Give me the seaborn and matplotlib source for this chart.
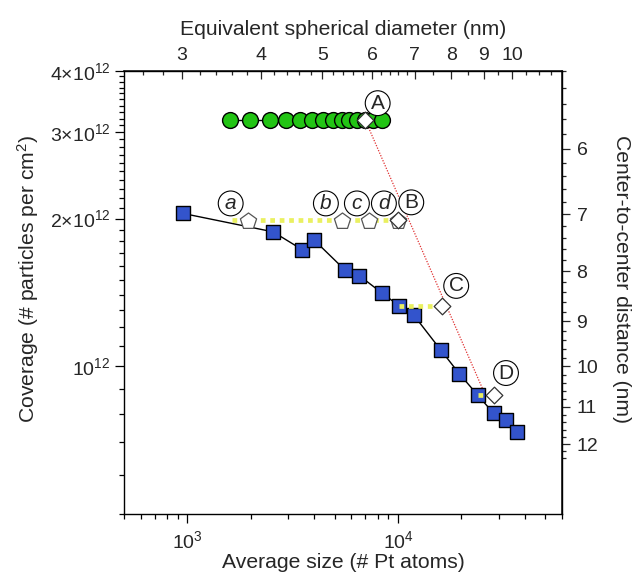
import numpy as np
import pandas as pd
import matplotlib
matplotlib.use('Agg')
from matplotlib import pyplot as plt
from matplotlib import ticker
import seaborn as sns

# particle size (# Pt atoms) vs coverage (# per cm^2)
blue_atoms = [950, 2550, 3500, 3990, 5610, 6550, 8400, 10080, 11900,
              15940, 19520, 23860, 28420, 32390, 36770]
blue_coverage = [2.05e12, 1.88e12, 1.73e12, 1.81e12, 1.57e12, 1.53e12, 1.41e12,
                 1.33e12, 1.27e12, 1.08e12, 0.966e12, 0.874e12, 0.802e12,
                 0.776e12, 0.735e12]

green_atoms = [1590, 1990, 2455, 2945, 3430, 3900, 4425, 4935, 5410, 5880,
               6375, 6980, 7640, 8370]
green_coverage = [3.18e12, 3.18e12, 3.18e12, 3.18e12, 3.18e12, 3.18e12, 3.18e12,
                  3.18e12, 3.18e12, 3.18e12, 3.18e12, 3.18e12, 3.18e12, 3.18e12]

pentagon_atoms = [1940, 5410, 7310, 9970]
pentagon_coverage = [1.98e12, 1.98e12, 1.98e12, 1.98e12]
pentagon_labels = ['a', 'b', 'c', 'd']

diamond_atoms = [6980, 10000, 16220, 28600]
diamond_coverage = [3.18e12, 1.99e12, 1.327e12, 0.873e12]
diamond_labels = ['A', 'B', 'C', 'D']

# yellow dotted guides ending on the diamonds B, C, D
yellow_start = [1630, 10080, 23860]

# red dotted guide from A
red_atoms = [6980, 26100]
red_coverage = [3.18e12, 0.869e12]

left_ticks = [1e12, 2e12, 3e12, 4e12]
left_ticklabels = ['10$^{12}$', '2×10$^{12}$', '3×10$^{12}$', '4×10$^{12}$']
top_ticks = [3, 4, 5, 6, 7, 8, 9, 10]
right_ticks = [6, 7, 8, 9, 10, 11, 12]

PT_VOLUME = 0.0150  # nm^3 per Pt atom


def atoms_to_diameter(n):
    n = np.clip(np.asarray(n, dtype=float), 1e-9, None)
    return (6 * n * PT_VOLUME / np.pi) ** (1 / 3)


def diameter_to_atoms(d):
    d = np.clip(np.asarray(d, dtype=float), 1e-9, None)
    return np.pi * d ** 3 / (6 * PT_VOLUME)


def coverage_to_distance(c):
    c = np.clip(np.asarray(c, dtype=float), 1e-9, None)
    return 1e7 / np.sqrt(c)


def distance_to_coverage(d):
    d = np.clip(np.asarray(d, dtype=float), 1e-9, None)
    return 1e14 / d ** 2


sns.set_theme(style='ticks')
plt.rcParams['font.family'] = ['Liberation Sans', 'DejaVu Sans']
plt.rcParams['mathtext.fontset'] = 'custom'
plt.rcParams['mathtext.rm'] = 'Liberation Sans'
plt.rcParams['mathtext.it'] = 'Liberation Sans:italic'
TICK_FS = 14
LABEL_FS = 15.2
MARK_FS = 15

fig = plt.figure(figsize=(6.33, 5.77), dpi=100)
ax = fig.add_axes([0.1959, 0.1092, 0.6919, 0.7678])
ax.set_xscale('log')
ax.set_yscale('log')

blue = pd.DataFrame({'atoms': blue_atoms, 'coverage': blue_coverage})
green = pd.DataFrame({'atoms': green_atoms, 'coverage': green_coverage})
pent = pd.DataFrame({'atoms': pentagon_atoms, 'coverage': pentagon_coverage})
diam = pd.DataFrame({'atoms': diamond_atoms, 'coverage': diamond_coverage})

# red guide
ax.plot(red_atoms, red_coverage, color='#e03030', lw=0.9, ls=(0, (1, 1.2)), zorder=2)

sns.lineplot(data=blue, x='atoms', y='coverage', color='black', lw=1.0, ax=ax,
             zorder=2, sort=False)
sns.scatterplot(data=blue, x='atoms', y='coverage', marker='s', s=100,
                color='#3354cc', edgecolor='black', linewidth=1.0, ax=ax, zorder=3)
sns.lineplot(data=green, x='atoms', y='coverage', color='black', lw=1.0, ax=ax,
             zorder=2, sort=False)
sns.scatterplot(data=green, x='atoms', y='coverage', marker='o', s=130,
                color='#22c414', edgecolor='black', linewidth=1.0, ax=ax, zorder=3)

for x0, x1, y in zip(yellow_start, diamond_atoms[1:], diamond_coverage[1:]):
    ax.plot([x0, x1], [y, y], color='#eaf060', lw=3.4, ls=(0, (1, 1)),
            solid_capstyle='butt', dash_capstyle='butt', zorder=4)

sns.scatterplot(data=pent, x='atoms', y='coverage', marker='p', s=150,
                color='white', edgecolor='#555555', linewidth=0.9, ax=ax, zorder=5)
sns.scatterplot(data=diam, x='atoms', y='coverage', marker='D', s=72,
                color='white', edgecolor='#333333', linewidth=0.9, ax=ax, zorder=6)

circle = dict(boxstyle='circle,pad=0.14', fc='white', ec='black', lw=0.8)
pent_offsets = [(-12.5, 12.5), (-11.5, 12.5), (-9, 12.5), (-10, 12.5)]
for x, y, lab, off in zip(pentagon_atoms, pentagon_coverage, pentagon_labels, pent_offsets):
    ax.annotate(lab, xy=(x, y), xytext=off, textcoords='offset points',
                ha='center', va='center', fontsize=MARK_FS, style='italic',
                bbox=circle, zorder=7)
diam_offsets = [(9, 12), (9.5, 12.5), (10, 14.5), (8.5, 16)]
for x, y, lab, off in zip(diamond_atoms, diamond_coverage, diamond_labels, diam_offsets):
    ax.annotate(lab, xy=(x, y), xytext=off, textcoords='offset points',
                ha='center', va='center', fontsize=MARK_FS,
                bbox=circle, zorder=7)

ax.set_xlim(500, 60000)
ax.set_ylim(5e11, 4e12)

ax.yaxis.set_major_locator(ticker.FixedLocator(left_ticks))
ax.yaxis.set_major_formatter(ticker.FixedFormatter(left_ticklabels))
ax.yaxis.set_minor_locator(ticker.FixedLocator(np.arange(5, 41) * 1e11))
ax.yaxis.set_minor_formatter(ticker.NullFormatter())
ax.xaxis.set_major_locator(ticker.LogLocator(base=10))
ax.xaxis.set_minor_locator(ticker.LogLocator(base=10, subs=np.arange(2, 10)))
ax.xaxis.set_minor_formatter(ticker.NullFormatter())

ax.tick_params(which='both', direction='out', labelsize=TICK_FS, width=0.9,
               top=False, right=False, color='black')
ax.tick_params(which='major', length=6.5)
ax.tick_params(which='minor', length=3.5)
ax.tick_params(axis='x', which='both', pad=5)
for sp in ax.spines.values():
    sp.set_linewidth(1.0)
    sp.set_color('black')

ax.set_xlabel('Average size (# Pt atoms)', fontsize=LABEL_FS, labelpad=1)
ax.set_ylabel('Coverage (# particles per cm$^2$)', fontsize=LABEL_FS)
ax.yaxis.set_label_coords(-0.19, 0.53)

# top axis: equivalent spherical diameter
top = ax.secondary_xaxis('top', functions=(atoms_to_diameter, diameter_to_atoms))
top.xaxis.set_major_locator(ticker.FixedLocator(top_ticks))
top.xaxis.set_major_formatter(ticker.FormatStrFormatter('%d'))
top_minor = list(np.arange(2.6, 7.0, 0.2)) + list(np.arange(7.5, 12.0, 0.5))
top.xaxis.set_minor_locator(ticker.FixedLocator(top_minor))
top.xaxis.set_minor_formatter(ticker.NullFormatter())
top.tick_params(which='both', direction='in', labelsize=TICK_FS, width=0.9, pad=5)
top.tick_params(which='major', length=6)
top.tick_params(which='minor', length=3)
top.set_xlabel('Equivalent spherical diameter (nm)', fontsize=LABEL_FS, labelpad=9)

# right axis: center-to-center distance
right = ax.secondary_yaxis('right', functions=(coverage_to_distance, distance_to_coverage))
right.yaxis.set_major_locator(ticker.FixedLocator(right_ticks))
right.yaxis.set_major_formatter(ticker.FormatStrFormatter('%d'))
right_minor = list(np.arange(5.0, 12.6, 0.2))
right.yaxis.set_minor_locator(ticker.FixedLocator(right_minor))
right.yaxis.set_minor_formatter(ticker.NullFormatter())
right.tick_params(which='both', direction='out', labelsize=TICK_FS, width=0.9, pad=5)
right.tick_params(which='major', length=5.5)
right.tick_params(which='minor', length=3)
right.set_ylabel('Center-to-center distance (nm)', fontsize=LABEL_FS, rotation=270)
right.yaxis.label.set_verticalalignment('center')
right.yaxis.set_label_coords(1.135, 0.53, transform=ax.transAxes)

fig.savefig('out.png', dpi=100)
